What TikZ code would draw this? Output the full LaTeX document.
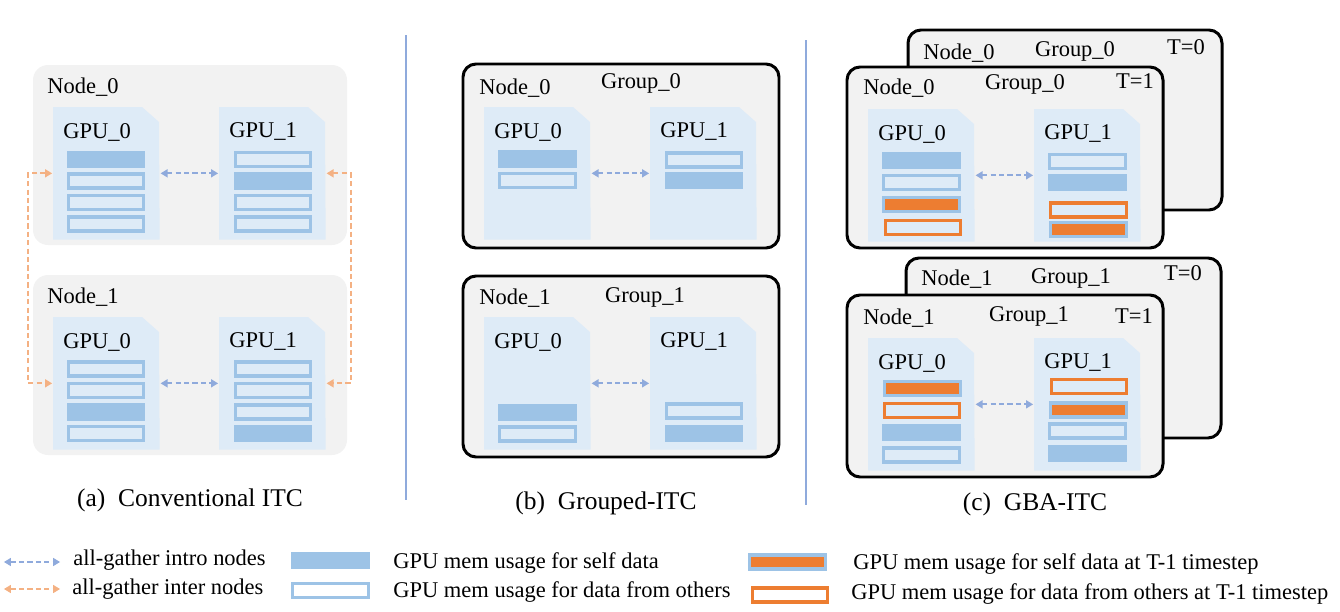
\documentclass[tikz,border=0pt]{standalone}
\usepackage{fontspec}
\setmainfont{Liberation Serif}
\usetikzlibrary{arrows.meta}

\definecolor{boxgray}{HTML}{F2F2F2}
\definecolor{docblue}{HTML}{DEEBF7}
\definecolor{barblue}{HTML}{9DC3E6}
\definecolor{memorange}{HTML}{ED7D31}
\definecolor{intrablue}{HTML}{8FAADC}
\definecolor{interorange}{HTML}{F4B183}

\tikzset{
  nodebox/.style={fill=boxgray, rounded corners=0.3cm},
  groupbox/.style={fill=boxgray, draw=black, line width=1.7pt, rounded corners=0.26cm},
  docbox/.style={minimum width=2.12cm, minimum height=2.64cm, inner sep=0, anchor=north west},
  bar/.style={minimum width=1.51cm, minimum height=0.275cm, inner sep=0, line width=1.9pt},
  selfbar/.style={bar, fill=barblue, draw=barblue},
  otherbar/.style={bar, draw=barblue},
  oldselfbar/.style={bar, fill=memorange, draw=barblue},
  oldotherbar/.style={bar, draw=memorange},
  lbl/.style={font=\fontsize{12.8}{14}\selectfont, inner sep=0},
  captxt/.style={font=\fontsize{14.5}{16}\selectfont, inner sep=0},
  gtip/.tip={Triangle[length=4pt,width=4.5pt]},
  intra/.style={intrablue, line width=1.1pt, dash pattern=on 3pt off 1.8pt, gtip-gtip, shorten <=0.5pt, shorten >=0.5pt},
  inter/.style={interorange, line width=1.1pt, dash pattern=on 3pt off 1.8pt, gtip-gtip, shorten <=0.5pt, shorten >=0.5pt},
  sepline/.style={intrablue, line width=1.5pt}
}

% GPU sheet: name, x, y (top left), gpu number
\newcommand{\gpudoc}[4]{
  \node[docbox] (#1) at (#2,#3) {};
  \fill[docblue] (#1.north west) -- ++(89,0) -- ++(17,15) -- (#1.south east) -- (#1.south west) -- cycle;
  \node[lbl, anchor=west] (#1l) at ([shift={(10,25)}]#1.north west) {GPU\_#4};
}

\begin{document}
\begin{tikzpicture}[x=0.02cm, y=-0.02cm]
\useasboundingbox (0,0) rectangle (1340,612);

% (a) conventional ITC
\fill[nodebox] (33,65) rectangle (347,245);
\fill[nodebox] (33,275) rectangle (347,455);
\node[lbl, anchor=west] (a0name) at (47,87) {Node\_0};
\node[lbl, anchor=west] (a1name) at (47,297) {Node\_1};
\gpudoc{a0g0}{53}{107}{0}
\gpudoc{a0g1}{219}{107}{1}
\gpudoc{a1g0}{53}{317}{0}
\gpudoc{a1g1}{219}{317}{1}

\node[selfbar] (a0g0b1) at (106,159.5) {};
\node[otherbar] (a0g0b2) at (106,181) {};
\node[otherbar] (a0g0b3) at (106,202.5) {};
\node[otherbar] (a0g0b4) at (106,224) {};
\node[otherbar] (a0g1b1) at (273,159.5) {};
\node[selfbar] (a0g1b2) at (273,181) {};
\node[otherbar] (a0g1b3) at (273,202.5) {};
\node[otherbar] (a0g1b4) at (273,224) {};

\node[otherbar] (a1g0b1) at (106,369) {};
\node[otherbar] (a1g0b2) at (106,390.5) {};
\node[selfbar] (a1g0b3) at (106,412) {};
\node[otherbar] (a1g0b4) at (106,433.5) {};
\node[otherbar] (a1g1b1) at (273,369) {};
\node[otherbar] (a1g1b2) at (273,390.5) {};
\node[otherbar] (a1g1b3) at (273,412) {};
\node[selfbar] (a1g1b4) at (273,433.5) {};

\draw[intra] (a0g0.east) -- (a0g1.west);
\draw[intra] (a1g0.east) -- (a1g1.west);
\draw[inter] (a0g0.west) -- ++(-25,0) |- (a1g0.west);
\draw[inter] (a0g1.east) -- ++(25,0) |- (a1g1.east);

\node[captxt] (acap) at (190,500) {(a)\ \ Conventional ITC};

\draw[sepline] (406,35) -- (406,500);

% (b) grouped ITC
\draw[groupbox] (463,64) rectangle (779,248);
\draw[groupbox] (463,276) rectangle (779,457);
\node[lbl, anchor=west] (b0name) at (479,88) {Node\_0};
\node[lbl] (b0grp) at (641,83) {Group\_0};
\node[lbl, anchor=west] (b1name) at (479,298) {Node\_1};
\node[lbl] (b1grp) at (645,297) {Group\_1};
\gpudoc{b0g0}{484}{107}{0}
\gpudoc{b0g1}{650}{107}{1}
\gpudoc{b1g0}{484}{317}{0}
\gpudoc{b1g1}{650}{317}{1}

\node[selfbar] (b0g0b1) at (537.5,159) {};
\node[otherbar] (b0g0b2) at (537.5,180.5) {};
\node[otherbar] (b0g1b1) at (704,160) {};
\node[selfbar] (b0g1b2) at (704,180.5) {};
\node[selfbar] (b1g0b1) at (537.5,412.5) {};
\node[otherbar] (b1g0b2) at (537.5,434) {};
\node[otherbar] (b1g1b1) at (704,411) {};
\node[selfbar] (b1g1b2) at (704,433.5) {};

\draw[intra] (b0g0.east) -- (b0g1.west);
\draw[intra] (b1g0.east) -- (b1g1.west);

\node[captxt] (bcap) at (606,503) {(b)\ \ Grouped-ITC};

\draw[sepline] (806,40) -- (806,505);

% (c) GBA-ITC, T=0 sheets behind T=1
\draw[groupbox] (908,30) rectangle (1222,210);
\node[lbl, anchor=west] (c0oldname) at (923,53) {Node\_0};
\node[lbl] (c0oldgrp) at (1075,51) {Group\_0};
\node[lbl] (c0oldt) at (1186,47) {T=0};
\draw[groupbox] (847,67) rectangle (1163,248);
\node[lbl, anchor=west] (c0name) at (863,88) {Node\_0};
\node[lbl] (c0grp) at (1025,84) {Group\_0};
\node[lbl] (c0t) at (1135,81) {T=1};
\gpudoc{c0g0}{868}{109}{0}
\gpudoc{c0g1}{1034}{109}{1}

\node[selfbar] (c0g0b1) at (921.5,160.5) {};
\node[otherbar] (c0g0b2) at (921.5,182.5) {};
\node[oldselfbar] (c0g0b3) at (921.5,204.5) {};
\node[oldotherbar] (c0g0b4) at (923,227.5) {};
\node[otherbar] (c0g1b1) at (1087.5,161.5) {};
\node[selfbar] (c0g1b2) at (1087.5,182.5) {};
\node[oldotherbar] (c0g1b3) at (1088.5,210) {};
\node[oldselfbar] (c0g1b4) at (1088.5,229.5) {};

\draw[intra] (c0g0.east) -- (c0g1.west);

\draw[groupbox] (906,258) rectangle (1221,438);
\node[lbl, anchor=west] (c1oldname) at (921,279) {Node\_1};
\node[lbl] (c1oldgrp) at (1071,278) {Group\_1};
\node[lbl] (c1oldt) at (1183,273) {T=0};
\draw[groupbox] (847,295) rectangle (1163,477);
\node[lbl, anchor=west] (c1name) at (863,318) {Node\_1};
\node[lbl] (c1grp) at (1029,316) {Group\_1};
\node[lbl] (c1t) at (1134,316) {T=1};
\gpudoc{c1g0}{868}{338}{0}
\gpudoc{c1g1}{1034}{338}{1}

\node[oldselfbar] (c1g0b1) at (922.5,388.5) {};
\node[oldotherbar] (c1g0b2) at (922,410.5) {};
\node[selfbar] (c1g0b3) at (921.5,432.5) {};
\node[otherbar] (c1g0b4) at (921.5,455) {};
\node[oldotherbar] (c1g1b1) at (1089,386.5) {};
\node[oldselfbar] (c1g1b2) at (1088.5,410) {};
\node[otherbar] (c1g1b3) at (1087.5,431) {};
\node[selfbar] (c1g1b4) at (1087.5,453.5) {};

\draw[intra] (c1g0.east) -- (c1g1.west);

\node[captxt] (ccap) at (1035,504) {(c)\ \ GBA-ITC};

% legend
\coordinate (lgintra1) at (3,562);
\coordinate (lgintra2) at (61,562);
\coordinate (lginter1) at (3,589);
\coordinate (lginter2) at (61,589);
\draw[intra] (lgintra1) -- (lgintra2);
\draw[inter] (lginter1) -- (lginter2);
\node[lbl, anchor=west] (lgintra) at (73,560) {all-gather intro nodes};
\node[lbl, anchor=west] (lginter) at (72,589) {all-gather inter nodes};
\node[selfbar] (lgself) at (330.5,560.5) {};
\node[otherbar] (lgother) at (330.5,590.5) {};
\node[lbl, anchor=west] (lgselft) at (393,563) {GPU mem usage for self data};
\node[lbl, anchor=west] (lgothert) at (393,592) {GPU mem usage for data from others};
\node[oldselfbar] (lgoldself) at (787.5,562) {};
\node[oldotherbar] (lgoldother) at (790,595) {};
\node[lbl, anchor=west] (lgoldselft) at (853,564) {GPU mem usage for self data at T-1 timestep};
\node[lbl, anchor=west] (lgoldothert) at (851,594) {GPU mem usage for data from others at T-1 timestep};
\end{tikzpicture}
\end{document}
